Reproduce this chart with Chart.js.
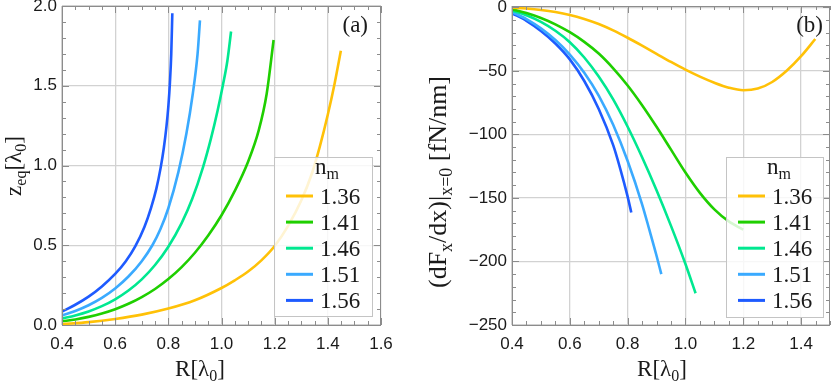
<!DOCTYPE html>
<html><head><meta charset="utf-8">
<script src="https://cdn.jsdelivr.net/npm/chart.js@4.4.1/dist/chart.umd.min.js"></script>
<style>
html,body{margin:0;padding:0;background:#fff;}
#wrap{position:relative;width:831px;height:382px;overflow:hidden;}
canvas{position:absolute;top:0;}
</style></head><body>
<div id="wrap">
<canvas id="ca" width="420" height="382" style="left:0px"></canvas>
<canvas id="cb" width="411" height="382" style="left:420px"></canvas>
</div>
<script>
// ---------- data ----------
const seriesLabels = ['1.36', '1.41', '1.46', '1.51', '1.56'];
const seriesColors = ['#FFC107', '#1FCF00', '#00E890', '#3AAAFF', '#1E5BFF'];

// Panel (a): z_eq vs R
const rA136 = [0.40,0.50,0.60,0.70,0.80,0.90,1.00,1.05,1.10,1.15,1.20,1.25,1.30,1.34,1.37,1.40,1.425,1.449];
const zA136 = [0.005,0.018,0.038,0.065,0.103,0.155,0.232,0.28,0.335,0.405,0.495,0.62,0.78,0.95,1.12,1.32,1.51,1.72];
const rA141 = [0.40,0.45,0.50,0.55,0.60,0.65,0.70,0.75,0.80,0.85,0.90,0.95,1.00,1.05,1.10,1.14,1.17,1.196];
const zA141 = [0.023,0.035,0.051,0.072,0.099,0.133,0.175,0.226,0.288,0.363,0.453,0.561,0.688,0.841,1.024,1.22,1.45,1.787];
const rA146 = [0.40,0.45,0.50,0.55,0.60,0.65,0.70,0.75,0.80,0.85,0.89,0.93,0.96,0.985,1.005,1.022,1.036];
const zA146 = [0.04,0.06,0.085,0.118,0.161,0.216,0.286,0.376,0.491,0.639,0.791,0.987,1.167,1.342,1.502,1.655,1.84];
const rA151 = [0.40,0.45,0.50,0.55,0.60,0.65,0.70,0.74,0.77,0.80,0.838,0.868,0.892,0.910,0.919];
const zA151 = [0.06,0.088,0.124,0.170,0.229,0.304,0.400,0.500,0.600,0.732,0.96,1.20,1.45,1.70,1.91];
const rA156 = [0.40,0.45,0.50,0.55,0.60,0.64,0.676,0.71,0.735,0.755,0.771,0.783,0.793,0.800,0.806,0.811,0.815];
const zA156 = [0.084,0.127,0.178,0.242,0.320,0.400,0.495,0.615,0.735,0.855,0.985,1.11,1.245,1.37,1.52,1.70,1.955];

// Panel (b): (dFx/dx)|x=0 vs R
const rB136 = [0.40,0.45,0.50,0.55,0.60,0.65,0.70,0.75,0.80,0.85,0.90,0.95,1.00,1.05,1.10,1.15,1.20,1.25,1.30,1.35,1.40,1.449];
const fB136 = [-0.3,-1.0,-2.1,-3.7,-6.0,-9.2,-13.2,-18.2,-24.0,-30.2,-36.6,-43.0,-49.1,-54.6,-59.4,-63.3,-65.3,-64.0,-58.8,-50.0,-38.5,-25];
const rB141 = [0.40,0.45,0.50,0.55,0.60,0.65,0.70,0.75,0.80,0.85,0.90,0.95,1.00,1.05,1.10,1.15,1.20];
const fB141 = [-1.6,-4.5,-8.4,-13.4,-19.6,-27.2,-36.4,-48,-61.5,-77,-94,-112,-130,-146,-159,-168.5,-175];
const rB146 = [0.40,0.45,0.50,0.55,0.60,0.65,0.70,0.75,0.80,0.85,0.90,0.95,1.00,1.035];
const fB146 = [-2.6,-6.3,-11.5,-18.5,-27.5,-39.5,-54.5,-72.5,-94,-118,-144,-172,-202,-225];
const rB151 = [0.40,0.45,0.50,0.55,0.60,0.65,0.70,0.75,0.80,0.85,0.875,0.90,0.9165];
const fB151 = [-3.7,-9.3,-16.6,-25.8,-37.2,-51.5,-69.5,-92.5,-121,-155,-175,-195.5,-210];
const rB156 = [0.40,0.45,0.50,0.55,0.60,0.65,0.70,0.75,0.775,0.80,0.8126];
const fB156 = [-4.7,-10.7,-18.7,-28.5,-41,-58,-80,-108.5,-127.5,-149,-161.5];

// tick labels
const xTicksA = [0.4, 0.6, 0.8, 1.0, 1.2, 1.4, 1.6];
const yTicksA = [0.0, 0.5, 1.0, 1.5, 2.0];
const xTicksB = [0.4, 0.6, 0.8, 1.0, 1.2, 1.4];
const yTicksB = [0, -50, -100, -150, -200, -250];

// ---------- helpers ----------
const SERIF = '"Liberation Serif","Times New Roman",serif';
const SANS = '"Liberation Sans",Arial,sans-serif';
const pts = (xs, ys) => xs.map((x, i) => ({x: x, y: ys[i]}));
const mkSets = (pairs) => pairs.map((p, i) => ({
  label: seriesLabels[i], data: pts(p[0], p[1]),
  borderColor: seriesColors[i], backgroundColor: seriesColors[i],
  borderWidth: 2.6, pointRadius: 0, fill: false,
  cubicInterpolationMode: 'monotone'
}));

function richWidth(ctx, segs, size) {
  let w = 0;
  for (const s of segs) {
    ctx.font = (s[1] ? Math.round(size * 0.7) : size) + 'px ' + SERIF;
    w += ctx.measureText(s[0]).width;
  }
  return w;
}
function drawRich(ctx, segs, cx, cy, size, rotate) {
  ctx.save();
  ctx.translate(cx, cy);
  if (rotate) ctx.rotate(-Math.PI / 2);
  ctx.fillStyle = '#1a1a1a';
  ctx.textBaseline = 'alphabetic';
  ctx.textAlign = 'left';
  let x = -richWidth(ctx, segs, size) / 2;
  for (const s of segs) {
    ctx.font = (s[1] ? Math.round(size * 0.7) : size) + 'px ' + SERIF;
    ctx.fillText(s[0], x, s[1] ? size * 0.22 : 0);
    x += ctx.measureText(s[0]).width;
  }
  ctx.restore();
}

const decor = {
  id: 'decor',
  afterDraw(chart, args, o) {
    const ctx = chart.ctx, a = chart.chartArea;
    const xs = chart.scales.x, ys = chart.scales.y;
    ctx.save();
    // frame
    ctx.strokeStyle = '#8c8c8c';
    ctx.lineWidth = 1;
    ctx.strokeRect(Math.round(a.left) + 0.5, Math.round(a.top) + 0.5,
                   Math.round(a.right - a.left) - 1, Math.round(a.bottom - a.top));
    // inward ticks
    ctx.beginPath();
    const eps = 1e-6;
    for (let v = xs.min; v <= xs.max + eps; v += o.xMinor) {
      const major = Math.abs(v / o.xMajor - Math.round(v / o.xMajor)) < 1e-3;
      const L = major ? 7 : 4;
      const px = Math.round(xs.getPixelForValue(v)) + 0.5;
      ctx.moveTo(px, a.bottom); ctx.lineTo(px, a.bottom - L);
      ctx.moveTo(px, a.top); ctx.lineTo(px, a.top + L);
    }
    for (let v = ys.min; v <= ys.max + eps; v += o.yMinor) {
      const major = Math.abs(v / o.yMajor - Math.round(v / o.yMajor)) < 1e-3;
      const L = major ? 7 : 4;
      const py = Math.round(ys.getPixelForValue(v)) + 0.5;
      ctx.moveTo(a.left, py); ctx.lineTo(a.left + L, py);
      ctx.moveTo(a.right, py); ctx.lineTo(a.right - L, py);
    }
    ctx.stroke();

    // legend
    const lg = o.legend;
    ctx.fillStyle = 'rgba(255,255,255,0.82)';
    ctx.fillRect(lg.x, lg.y, lg.w, lg.h);
    ctx.strokeStyle = '#c4c4c4';
    ctx.strokeRect(lg.x + 0.5, lg.y + 0.5, lg.w, lg.h);
    drawRich(ctx, [['n', 0], ['m', 1]], lg.x + 53, lg.y + 17, 23, false);
    chart.data.datasets.forEach((ds, i) => {
      const yy = lg.y + 39 + 26.1 * i;
      ctx.strokeStyle = ds.borderColor;
      ctx.lineWidth = 3;
      ctx.beginPath();
      ctx.moveTo(lg.x + 12, yy); ctx.lineTo(lg.x + 39, yy);
      ctx.stroke();
      ctx.fillStyle = '#1a1a1a';
      ctx.font = '23px ' + SERIF;
      ctx.textAlign = 'left';
      ctx.textBaseline = 'alphabetic';
      ctx.fillText(ds.label, lg.x + 46, yy + 8);
    });

    // panel label
    ctx.fillStyle = '#1a1a1a';
    ctx.font = '23px ' + SERIF;
    ctx.textAlign = 'right';
    ctx.textBaseline = 'alphabetic';
    ctx.fillText(o.panel.text, o.panel.x, o.panel.y);
    ctx.restore();

    // axis titles
    drawRich(ctx, o.xTitle.segs, o.xTitle.x, o.xTitle.y, 23, false);
    drawRich(ctx, o.yTitle.segs, o.yTitle.x, o.yTitle.y, o.yTitle.size, true);
  }
};

function axisCfg(min, max, ticksArr, fmt, isX, size, pad) {
  return {
    type: 'linear', min: min, max: max,
    afterBuildTicks: s => { s.ticks = ticksArr.map(v => ({value: v})); },
    afterFit: s => {
      if (isX) s.height = size; else s.width = size;
      s.paddingLeft = 0; s.paddingRight = 0; s.paddingTop = 0; s.paddingBottom = 0;
    },
    grid: {color: '#d2d2d2', lineWidth: 1.3, drawTicks: false},
    border: {display: false},
    ticks: {
      padding: pad, autoSkip: false, maxRotation: 0, color: '#1a1a1a',
      font: {family: SANS, size: 17},
      callback: fmt
    }
  };
}

function baseOptions(padding) {
  return {
    responsive: false, animation: false, devicePixelRatio: 1,
    layout: {padding: padding},
    plugins: {legend: {display: false}, tooltip: {enabled: false}},
    elements: {point: {radius: 0}}
  };
}

// ---------- chart (a) ----------
const optA = baseOptions({left: 0, top: 6, right: 39, bottom: 0});
optA.scales = {
  x: axisCfg(0.4, 1.6, xTicksA, v => v.toFixed(1), true, 57, 9),
  y: axisCfg(0, 2, yTicksA, v => v.toFixed(1), false, 62, 5)
};
optA.plugins.decor = {
  xMinor: 0.05, xMajor: 0.2, yMinor: 0.1, yMajor: 0.5,
  legend: {x: 274, y: 157, w: 98, h: 159},
  panel: {text: '(a)', x: 368, y: 32},
  xTitle: {segs: [['R[λ', 0], ['0', 1], [']', 0]], x: 200, y: 376},
  yTitle: {segs: [['z', 0], ['eq', 1], ['[λ', 0], ['0', 1], [']', 0]], x: 21, y: 166, size: 23}
};
new Chart(document.getElementById('ca'), {
  type: 'line',
  data: {datasets: mkSets([[rA136, zA136], [rA141, zA141], [rA146, zA146], [rA151, zA151], [rA156, zA156]])},
  options: optA,
  plugins: [decor]
});

// ---------- chart (b) ----------
const optB = baseOptions({left: 0, top: 6, right: 1, bottom: 0});
optB.scales = {
  x: axisCfg(0.4, 1.5, xTicksB, v => v.toFixed(1), true, 57, 9),
  y: axisCfg(-250, 1, yTicksB, v => (v === 0 ? '0' : '\u2212' + Math.abs(v)), false, 92, 5)
};
optB.plugins.decor = {
  xMinor: 0.05, xMajor: 0.2, yMinor: 10, yMajor: 50,
  legend: {x: 306, y: 157, w: 97, h: 160},
  panel: {text: '(b)', x: 403, y: 32},
  xTitle: {segs: [['R[λ', 0], ['0', 1], [']', 0]], x: 242, y: 376},
  yTitle: {segs: [['(dF', 0], ['x', 1], ['/dx)|', 0], ['x=0', 1], [' [fN/nm]', 0]], x: 26, y: 182, size: 26}
};
new Chart(document.getElementById('cb'), {
  type: 'line',
  data: {datasets: mkSets([[rB136, fB136], [rB141, fB141], [rB146, fB146], [rB151, fB151], [rB156, fB156]])},
  options: optB,
  plugins: [decor]
});
</script>
</body></html>
